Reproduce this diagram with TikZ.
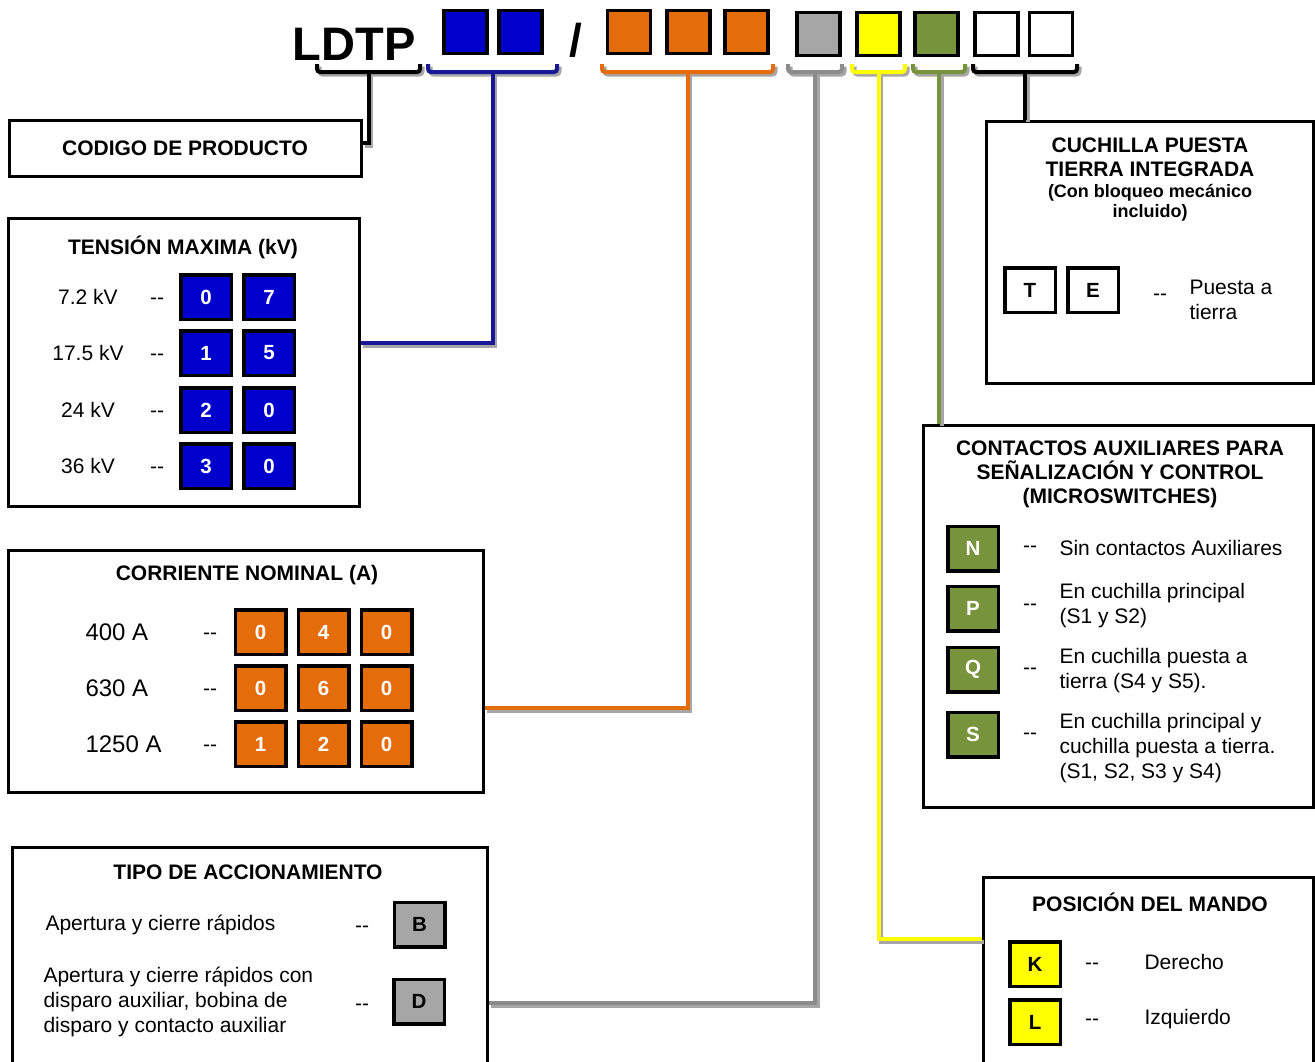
\documentclass[tikz,border=0pt]{standalone}
\usepackage{fontspec}
\setmainfont{Liberation Sans}
\definecolor{bleu}{RGB}{0,0,204}
\definecolor{bleutrait}{RGB}{24,24,150}
\definecolor{orng}{RGB}{228,108,10}
\definecolor{gris}{RGB}{166,166,166}
\definecolor{gristrait}{RGB}{140,140,140}
\definecolor{jaune}{RGB}{255,255,0}
\definecolor{vert}{RGB}{119,147,60}
\newcommand\tirets{\mbox{-}\mbox{-}}
\begin{document}
\begin{tikzpicture}  % ------ Codification LDTP -------
      [x=1pt,y=-1pt,
       cadre/.style={draw, line width=3pt, inner sep=0pt},
       case/.style={draw, line width=3.5pt, minimum width=50.5pt, minimum height=44.5pt, inner sep=0pt,
                    font=\bfseries\fontsize{20.5}{24}\selectfont},
       haut/.style={draw, line width=3.5pt, minimum size=43pt, inner sep=0pt},
       lien/.style={line width=4pt, preaction={draw=black!35, line width=4pt, transform canvas={shift={(2.5pt,-2.5pt)}}}},
       titre/.style={font=\bfseries\fontsize{21}{24}\selectfont, align=center},
       txt/.style={font=\fontsize{21}{25}\selectfont, align=left},
       tiret/.style={txt, yshift=-4pt}]

    \useasboundingbox (0,0) rectangle (1315,1061);

    % en-tete
    \node[font=\bfseries\fontsize{47}{50}\selectfont] (ldtp) at (354,44) {LDTP};
    \node[font=\bfseries\fontsize{46}{50}\selectfont] (barre) at (576,40) {/};
    \node[haut, fill=bleu] (h1) at (465.5,32) {};  \node[haut, fill=bleu] (h2) at (520.5,32) {};
    \node[haut, fill=orng] (h3) at (629,32) {};  \node[haut, fill=orng] (h4) at (688.5,32) {};
    \node[haut, fill=orng] (h5) at (746.5,32) {};
    \node[haut, fill=gris] (h6) at (818.5,34) {};  \node[haut, fill=jaune] (h7) at (878.5,34) {};
    \node[haut, fill=vert] (h8) at (936.5,34) {};
    \node[haut, fill=white] (h9) at (996.5,34) {};  \node[haut, fill=white] (h10) at (1051,34) {};

    % cadres
    \node[cadre, minimum width=352pt, minimum height=56pt, font=\bfseries\fontsize{21}{24}\selectfont] (codigo) at (185,148) {CODIGO DE PRODUCTO};
    \node[cadre, minimum width=351pt, minimum height=288pt] (tension) at (183.5,362) {};
    \node[cadre, minimum width=475pt, minimum height=242pt] (courant) at (245.5,671) {};
    \node[cadre, minimum width=475pt, minimum height=228pt] (tipo) at (249.5,961) {};
    \node[cadre, minimum width=327pt, minimum height=262pt] (cuchilla) at (1149.5,252) {};
    \node[cadre, minimum width=390pt, minimum height=382pt] (contactos) at (1118,616) {};
    \node[cadre, minimum width=330pt, minimum height=198pt] (mando) at (1148,976) {};

    % accolades sous les cases
    \foreach \a/\b/\c/\n in {317/420/black/L, 428/557/bleutrait/B, 602/773/orng/O, 788/842/gristrait/G,
                             852/905/jaune/J, 913/965/vert/V, 973/1077/black/K}{
      \draw[lien, \c, rounded corners=3pt] (\a,64) -- (\a,72) -- (\b,72) -- (\b,64);
      \coordinate (c\n) at ({(\a+\b)/2},72);
    }
    \draw[lien, black] (cL) |- ([yshift=5pt]codigo.east);
    \draw[lien, bleutrait] (cB) |- ([yshift=19pt]tension.east);
    \draw[lien, orng] (cO) |- ([yshift=-37pt]courant.east);
    \draw[lien, gristrait] (cG) |- ([yshift=-42pt]tipo.east);
    \draw[lien, jaune] (cJ) |- ([yshift=37pt]mando.west);
    \draw[lien, vert] (cV) -- (cV |- contactos.north);
    \draw[lien, black] (cK) -- (cK |- cuchilla.north);

    % tension maxima
    \node[titre] (tt) at (183,247) {TENSIÓN MAXIMA (kV)};
    \foreach \y/\t/\d/\e [count=\i] in {297/7.2 kV/0/7, 353/17.5 kV/1/5, 410/24 kV/2/0, 466/36 kV/3/0}{
      \node[txt] (tk\i) at (88,\y) {\t};
      \node[tiret] (td\i) at (157,\y) {\tirets};
      \node[case, fill=bleu, text=white] (ta\i) at (206,\y) {\d};
      \node[case, fill=bleu, text=white] (tb\i) at (269,\y) {\e};
    }

    % corriente nominal
    \node[titre] (ct) at (247,575) {CORRIENTE NOMINAL (A)};
    \foreach \y/\t/\a/\b/\c [count=\i] in {632/400 A/0/4/0, 688/630 A/0/6/0, 744/1250 A/1/2/0}{
      \node[txt, anchor=west, font=\fontsize{24}{28}\selectfont] (ck\i) at (82,\y) {\t};
      \node[tiret] (cd\i) at (210,\y) {\tirets};
      \node[case, fill=orng, text=white] (ca\i) at (260.5,\y) {\a};
      \node[case, fill=orng, text=white] (cb\i) at (323.5,\y) {\b};
      \node[case, fill=orng, text=white] (cc\i) at (386.5,\y) {\c};
    }

    % tipo de accionamiento
    \node[titre] (pt) at (248,872) {TIPO DE ACCIONAMIENTO};
    \node[txt, anchor=west] (p1) at (42,925) {Apertura y cierre rápidos};
    \node[txt, anchor=west] (p2) at (40,1002) {Apertura y cierre rápidos con\\disparo auxiliar, bobina de\\disparo y contacto auxiliar};
    \node[tiret] (pd1) at (362,925) {\tirets};  \node[tiret] (pd2) at (362,1003) {\tirets};
    \node[case, fill=gris] (pB) at (419.5,924.5) {B};
    \node[case, fill=gris] (pD) at (419,1001.5) {D};

    % cuchilla puesta a tierra
    \node[titre] (kt) at (1150,157.5) {CUCHILLA PUESTA\\TIERRA INTEGRADA};
    \node[titre, font=\bfseries\fontsize{18}{20.5}\selectfont] (ks) at (1150,203) {(Con bloqueo mecánico\\incluido)};
    \node[case, fill=white] (kT) at (1030,290) {T};
    \node[case, fill=white] (kE) at (1093,290) {E};
    \node[tiret] (kd) at (1160,293) {\tirets};
    \node[txt, anchor=west] (kx) at (1186,299.5) {Puesta a\\tierra};

    % contactos auxiliares
    \node[titre] (at) at (1120,474) {CONTACTOS AUXILIARES PARA\\SEÑALIZACIÓN Y CONTROL\\(MICROSWITCHES)};
    \foreach \y/\d/\z/\l/\t [count=\i] in {548.5/545/548/N/Sin contactos Auxiliares,
                                           608.5/603/605.5/P/{En cuchilla principal\\(S1 y S2)},
                                           669.5/667/671/Q/{En cuchilla puesta a\\tierra (S4 y S5).},
                                           734.5/732/748.5/S/{En cuchilla principal y\\cuchilla puesta a tierra.\\(S1, S2, S3 y S4)}}{
      \node[case, fill=vert, text=white] (a\l) at (973,\y) {\l};
      \node[tiret] (ad\i) at (1030,\d) {\tirets};
      \node[txt, anchor=west] (ax\i) at (1056,\z) {\t};
    }

    % posicion del mando
    \node[titre] (mt) at (1150,902) {POSICIÓN DEL MANDO};
    \node[case, fill=jaune] (mK) at (1035,964) {K};
    \node[case, fill=jaune] (mL) at (1035,1022) {L};
    \node[tiret] (md1) at (1092,962) {\tirets};  \node[tiret] (md2) at (1092,1018) {\tirets};
    \node[txt, anchor=west] (mx1) at (1141,962) {Derecho};
    \node[txt, anchor=west] (mx2) at (1141,1019) {Izquierdo};
\end{tikzpicture}
\end{document}
